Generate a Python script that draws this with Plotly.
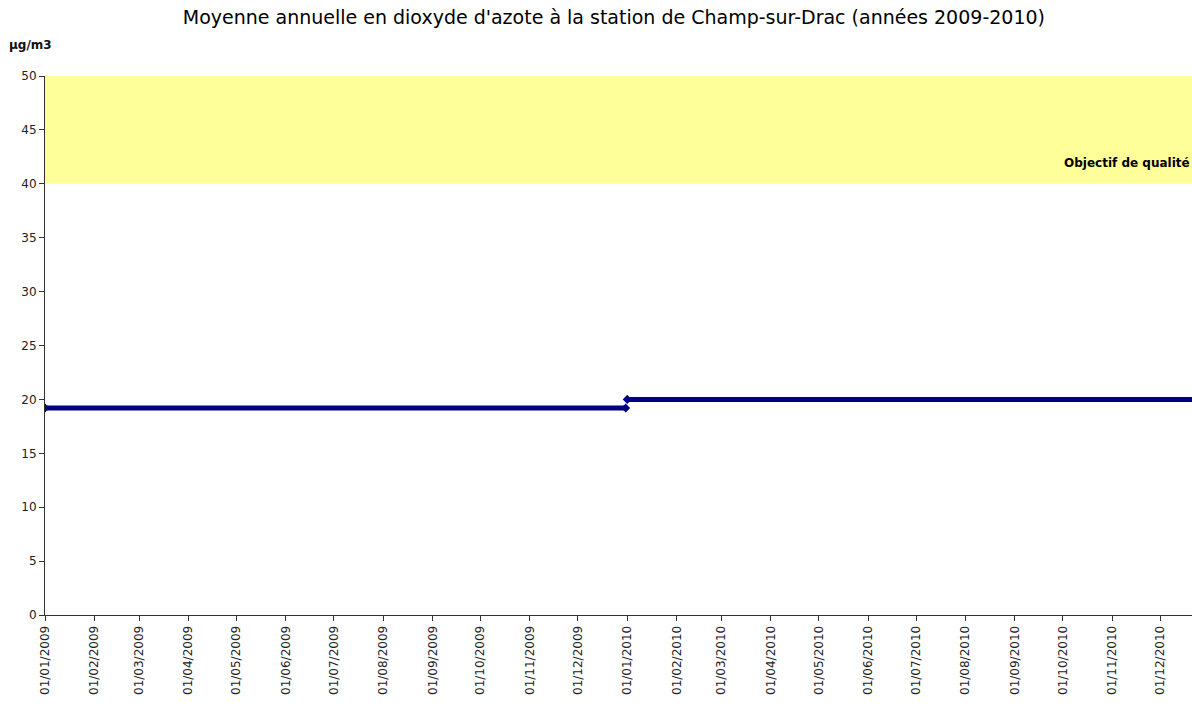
import plotly.graph_objects as go
import pandas as pd

# Data
period_labels = ["2009", "2010"]
period_start = ["2009-01-01", "2010-01-01"]
period_end = ["2009-12-31", "2010-12-31"]
annual_mean = [19.2, 20.0]

objective_low = 40
objective_high = 50
objective_label = "Objectif de qualité"

tick_dates = pd.date_range("2009-01-01", "2010-12-01", freq="MS")
tick_text = [d.strftime("%d/%m/%Y") for d in tick_dates]

y_ticks = list(range(0, 51, 5))

title = "Moyenne annuelle en dioxyde d'azote à la station de Champ-sur-Drac (années 2009-2010)"
unit = "µg/m3"

fig = go.Figure()

for lab, s, e, v in zip(period_labels, period_start, period_end, annual_mean):
    fig.add_trace(go.Scatter(
        x=[s, e], y=[v, v], mode="lines+markers", name=lab,
        line=dict(color="#000080", width=5),
        marker=dict(symbol="diamond", size=7, color="#000080"),
        showlegend=False, cliponaxis=True,
    ))

fig.add_shape(type="rect", xref="paper", x0=0, x1=1, yref="y",
              y0=objective_low, y1=objective_high,
              fillcolor="#FFFF99", line=dict(width=0), layer="below")

fig.add_annotation(xref="paper", x=1, yref="y", y=41.9, text="<b>" + objective_label + "</b>",
                   showarrow=False, xanchor="right", yanchor="middle",
                   font=dict(family="DejaVu Sans", size=12, color="black"))

fig.add_annotation(xref="paper", x=-0.033, yref="paper", y=1.058, text="<b>" + unit + "</b>",
                   showarrow=False, xanchor="left", yanchor="middle",
                   font=dict(family="DejaVu Sans", size=12, color="#111"))

fig.update_layout(
    width=1192, height=712,
    margin=dict(l=45, r=0, t=76, b=97),
    paper_bgcolor="white", plot_bgcolor="white",
    title=dict(text=title, x=0.515, xanchor="center", y=0.975, yanchor="middle",
               font=dict(family="DejaVu Sans", size=19, color="black")),
    font=dict(family="DejaVu Sans", size=12, color="#222"),
)

fig.update_xaxes(
    type="date", range=["2009-01-01", "2010-12-21"],
    tickmode="array", tickvals=list(tick_dates), ticktext=tick_text,
    tickangle=-90, ticks="outside", ticklen=5, tickcolor="#333",
    showline=True, linecolor="#333", linewidth=1, showgrid=False, zeroline=False,
    tickfont=dict(family="DejaVu Sans", size=12, color="#222"),
)
fig.update_yaxes(
    range=[0, 50], tickmode="array", tickvals=y_ticks,
    ticks="outside", ticklen=5, tickcolor="#333",
    showline=True, linecolor="#333", linewidth=1, showgrid=False, zeroline=False,
    tickfont=dict(family="DejaVu Sans", size=12, color="#222"),
)

fig.write_html("out.html", config={"displayModeBar": False},
               post_script="document.body.style.margin='0';document.body.style.overflow='hidden';")
